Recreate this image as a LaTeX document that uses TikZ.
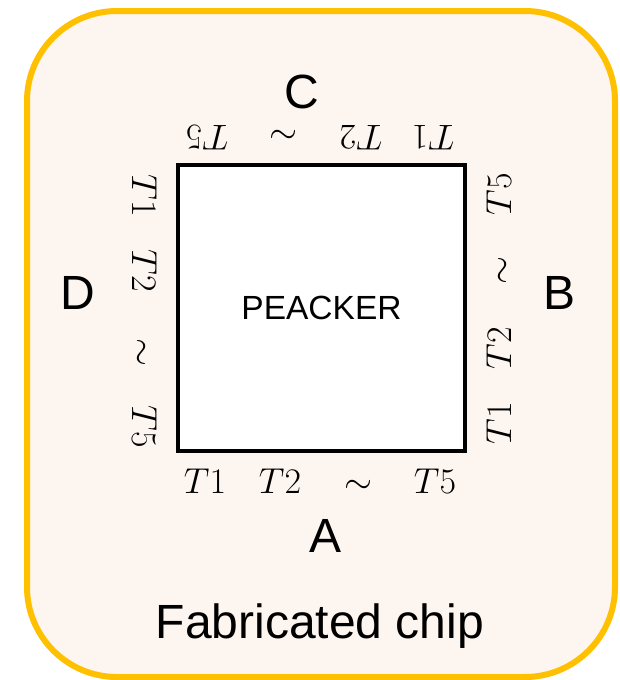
\documentclass[tikz,border=0pt]{standalone}
\usepackage{fix-cm}
\usepackage{fontspec}
\newfontfamily\arialf{Liberation Sans}
\definecolor{chipgold}{RGB}{255,192,0}
\definecolor{chipfill}{RGB}{252,245,240}
\begin{document}
\begin{tikzpicture}[x=1pt,y=-1pt,
  chipbox/.style={draw=chipgold, fill=chipfill, line width=6pt, rounded corners=90pt,
    minimum width=588pt, minimum height=666pt, inner sep=0pt},
  corebox/.style={draw=black, fill=white, line width=3.8pt,
    minimum width=287pt, minimum height=286pt, inner sep=0pt,
    font=\arialf\fontsize{33.5}{40}\selectfont},
  side/.style={font=\arialf\fontsize{48}{58}\selectfont, anchor=base, inner sep=0pt},
  pin/.style={font=\fontsize{36}{43}\selectfont, anchor=base, inner sep=0pt},
  pintop/.style={pin, rotate=180},
  pinleft/.style={pin, rotate=-90},
  pinright/.style={pin, rotate=90}]
\useasboundingbox (0,0) rectangle (619,680);
\fill[white] (0,0) rectangle (619,680);
\node[chipbox] (chip) at (321,344) {};
\node[corebox] (core) at (321.5,308) {PEACKER};
% side letters
\node[side] (lC) at (302,108) {C};
\node[side] (lA) at (326,552) {A};
\node[side] (lD) at (78,309) {D};
\node[side] (lB) at (560,309) {B};
\node[side] (title) at (320,638) {Fabricated chip};
% bottom pins
\node[pin] (a1) at (205,493) {$T1$};
\node[pin] (a2) at (280,493) {$T2$};
\node[pin] (a3) at (358,493) {$\sim$};
\node[pin] (a5) at (435,493) {$T5$};
% top pins
\node[pintop] (c5) at (207,125) {$T5$};
\node[pintop] (c3) at (283,125) {$\sim$};
\node[pintop] (c2) at (361,125) {$T2$};
\node[pintop] (c1) at (433,125) {$T1$};
% left pins
\node[pinleft] (d1) at (132,196) {$T1$};
\node[pinleft] (d2) at (132,271) {$T2$};
\node[pinleft] (d3) at (132,352) {$\sim$};
\node[pinleft] (d5) at (132,427) {$T5$};
% right pins
\node[pinright] (b5) at (511,194) {$T5$};
\node[pinright] (b3) at (511,270) {$\sim$};
\node[pinright] (b2) at (511,348) {$T2$};
\node[pinright] (b1) at (511,423) {$T1$};
\end{tikzpicture}
\end{document}
